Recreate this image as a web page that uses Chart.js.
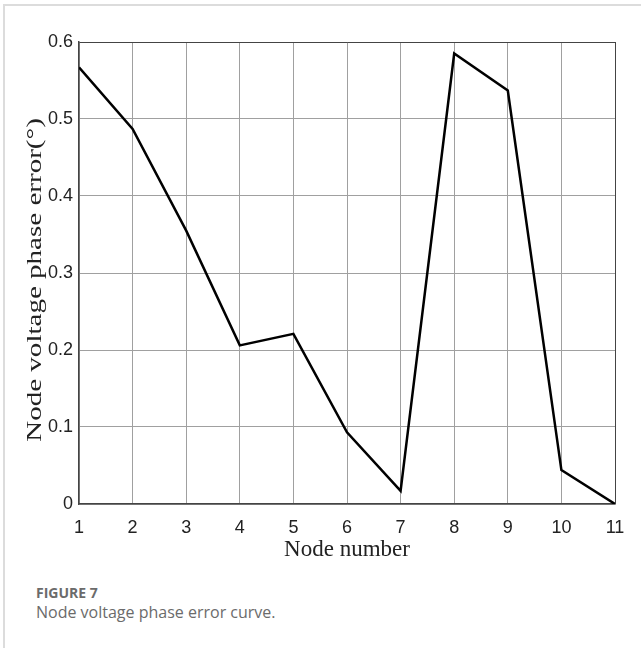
<!DOCTYPE html>
<html>
<head>
<meta charset="utf-8">
<script src="https://cdn.jsdelivr.net/npm/chart.js@4.4.1/dist/chart.umd.min.js"></script>
<style>
  html, body { margin: 0; padding: 0; background: #fff; }
  #page { position: relative; width: 641px; height: 648px; overflow: hidden; }
  #frame { position: absolute; left: 3px; top: 4px; right: -10px; bottom: -10px;
           border-left: 2px solid #dcdcdc; border-top: 2px solid #dcdcdc; }
  #wrap { position: absolute; left: 0; top: 0; width: 641px; height: 580px; }
  .cap { position: absolute; left: 36px; font-family: "Open Sans", sans-serif; color: #6b6b6b; }
  #capTitle { top: 583px; font-size: 14px; font-weight: 700; }
  #capText { top: 601px; font-size: 16px; }
</style>
</head>
<body>
<div id="page">
  <div id="frame"></div>
  <div id="wrap"><canvas id="chart"></canvas></div>
  <div class="cap" id="capTitle">FIGURE 7</div>
  <div class="cap" id="capText">Node voltage phase error curve.</div>
</div>
<script>
// Data
const nodes = [1, 2, 3, 4, 5, 6, 7, 8, 9, 10, 11];
const phaseError = [0.567, 0.487, 0.355, 0.206, 0.221, 0.093, 0.017, 0.585, 0.537, 0.044, 0.0];
const yTicks = [0, 0.1, 0.2, 0.3, 0.4, 0.5, 0.6];
const yTitle = 'Node voltage phase error(°)';

// y title is drawn stretched along its length, like the MATLAB export
const yTitlePlugin = {
  id: 'yTitle',
  afterDraw(chart) {
    const c = chart.ctx;
    const area = chart.chartArea;
    c.save();
    c.translate(35, (area.top + area.bottom) / 2 + 7);
    c.rotate(-Math.PI / 2);
    c.scale(1.32, 1);
    c.font = '22px "Liberation Serif"';
    c.fillStyle = '#222';
    c.textAlign = 'center';
    c.textBaseline = 'middle';
    c.fillText(yTitle, 0, 0);
    c.restore();
  }
};

document.addEventListener('DOMContentLoaded', () => {
  const ctx = document.getElementById('chart').getContext('2d');

  new Chart(ctx, {
    type: 'line',
    data: {
      datasets: [{
        data: nodes.map((n, i) => ({ x: n, y: phaseError[i] })),
        borderColor: '#000',
        borderWidth: 2.5,
        pointRadius: 0,
        tension: 0,
        fill: false
      }]
    },
    plugins: [yTitlePlugin],
    options: {
      responsive: true,
      maintainAspectRatio: false,
      animation: false,
      layout: { padding: { top: 42, right: 26, left: 0, bottom: 0 } },
      plugins: { legend: { display: false }, tooltip: { enabled: false } },
      scales: {
        x: {
          type: 'linear',
          min: 1,
          max: 11,
          afterFit: (s) => { s.height = 76; },
          afterBuildTicks: (s) => { s.ticks = nodes.map(v => ({ value: v })); },
          ticks: {
            color: '#222',
            padding: 13,
            font: { family: 'Liberation Sans', size: 18 },
            maxRotation: 0
          },
          grid: {
            drawTicks: false,
            color: (c) => c.tick && c.tick.value === 11 ? '#444' : '#a0a0a0',
            lineWidth: 1
          },
          border: { color: '#444', width: 1.5 },
          title: {
            display: true,
            text: 'Node number',
            color: '#222',
            font: { family: 'Liberation Serif', size: 23 },
            padding: { top: 0, bottom: 16 }
          }
        },
        y: {
          min: 0,
          max: 0.6,
          afterFit: (s) => { s.width = 79; },
          afterBuildTicks: (s) => { s.ticks = yTicks.map(v => ({ value: v })); },
          ticks: {
            color: '#222',
            padding: 6,
            font: { family: 'Liberation Sans', size: 18 },
            callback: (v) => String(v)
          },
          grid: {
            drawTicks: false,
            color: (c) => c.tick && c.tick.value === 0.6 ? '#444' : '#a0a0a0',
            lineWidth: 1
          },
          border: { color: '#444', width: 1.5 },
          title: { display: false }
        }
      }
    }
  });
});
</script>
</body>
</html>
